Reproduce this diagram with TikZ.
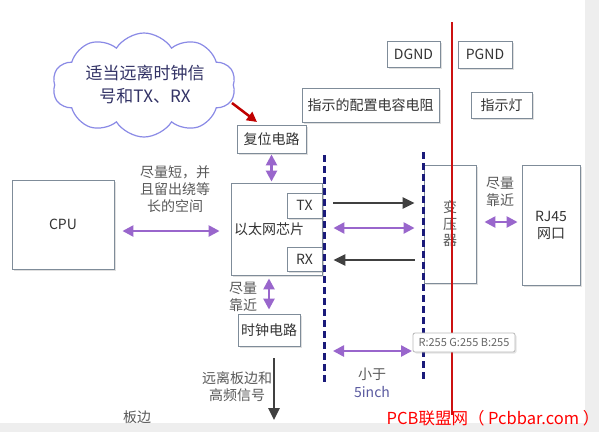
\documentclass[tikz,border=0pt]{standalone}
\usepackage{fontspec}
\setmainfont{Noto Sans CJK SC}
\usetikzlibrary{arrows.meta,shapes.symbols,shadows}
\definecolor{boxline}{HTML}{7F8C99}
\definecolor{pur}{HTML}{9966CC}
\definecolor{navy}{HTML}{1A1A7A}
\definecolor{txt}{HTML}{333333}
\definecolor{gtxt}{HTML}{595959}
\definecolor{cloudline}{HTML}{8A8AE6}
\definecolor{cloudtxt}{HTML}{333366}
\definecolor{darkred}{HTML}{C00000}
\definecolor{redline}{HTML}{CC1111}
\definecolor{arrblack}{HTML}{404040}
\definecolor{inchblue}{HTML}{5A5AA0}
\definecolor{bggray}{HTML}{EEEEEE}
\begin{document}
\begin{tikzpicture}[x=1pt,y=-1pt,
  box/.style={draw=boxline, line width=0.9pt, fill=white, inner sep=0pt, text=txt,
    font=\fontsize{14}{17}\selectfont, align=center,
    drop shadow={shadow xshift=2pt, shadow yshift=-2pt, opacity=0.25}},
  parr/.style={draw=pur, line width=2.5pt,
    {Triangle[length=11pt,width=11pt]}-{Triangle[length=11pt,width=11pt]}},
  barr/.style={draw=arrblack, line width=2.5pt, -{Triangle[length=12pt,width=11pt]}},
  lbl/.style={text=gtxt, font=\fontsize{14}{17}\selectfont, align=center, inner sep=0pt},
  dashln/.style={draw=navy, line width=3pt, dash pattern=on 7pt off 4pt}]
\useasboundingbox (0,0) rectangle (599,432);
\fill[bggray] (0,0) rectangle (599,432);
\fill[white] (0,0) rectangle (585,423);

% cloud
\node[cloud, cloud puffs=10, cloud puff arc=115, aspect=1.76, draw=cloudline, line width=1.2pt,
  fill=white, minimum width=183pt, minimum height=104pt, inner sep=0pt] (cloud) at (144,85) {};
\node[text=cloudtxt, font=\fontsize{17}{23}\selectfont, align=center, inner sep=0pt] (cloudtext) at (145,84)
  {适当远离时钟信\\号和TX、RX};

% boxes
\node[box, minimum width=69pt, minimum height=28pt] (reset) at (271.5,139) {复位电路};
\node[box, minimum width=91pt, minimum height=92pt] (chip) at (276.5,229) {};
\node[lbl, text=txt] (chiptext) at (269,229) {以太网芯片};
\node[box, minimum width=35pt, minimum height=25pt] (tx) at (304.5,205.5) {TX};
\node[box, minimum width=35pt, minimum height=24pt] (rx) at (304.5,259) {RX};
\node[box, minimum width=102pt, minimum height=89pt] (cpu) at (63,224.5) {CPU};
\node[box, minimum width=62pt, minimum height=32pt] (clock) at (269,330) {时钟电路};
\node[box, minimum width=53pt, minimum height=26pt] (dgnd) at (413.5,54) {DGND};
\node[box, minimum width=54pt, minimum height=27pt] (pgnd) at (485,54.5) {PGND};
\node[box, minimum width=137pt, minimum height=34pt] (config) at (370.5,105) {指示的配置电容电阻};
\node[box, minimum width=61pt, minimum height=26pt] (led) at (501.5,105) {指示灯};
\node[box, minimum width=52pt, minimum height=118pt, text=gtxt, font=\fontsize{14}{16.5}\selectfont] (xfmr) at (450,224) {变\\压\\器};
\node[box, minimum width=58pt, minimum height=120pt] (rj45) at (551,225) {RJ45\\网口};

% labels
\node[lbl] (note1) at (175,189) {尽量短，并\\且留出绕等\\长的空间};
\node[lbl] (near1) at (500,192) {尽量\\靠近};
\node[lbl] (near2) at (243,297) {尽量\\靠近};
\node[lbl] (far) at (237,387) {远离板边和\\高频信号};
\node[lbl] (edge) at (137,417) {板边};
\node[lbl] (lt5) at (372,374) {小于};
\node[lbl, text=inchblue] (inch) at (372,392) {5inch};

% coordinates
\coordinate (d1top) at (324,155);
\coordinate (d1bot) at (324,384);
\coordinate (d2top) at (423,152);
\coordinate (d2bot) at (423,382);
\coordinate (redtop) at (452,22);
\coordinate (redbot) at (452,415);
\coordinate (redtail) at (232,103);
\coordinate (redhead) at (257,122);
\coordinate (boardedge) at (274,420);

% connectors
\draw[draw=darkred, line width=2.5pt, -{Triangle[length=10pt,width=10pt]}] (redtail) -- (redhead);
\draw[parr, shorten <=1pt, shorten >=1pt] (reset.south) -- (reset.south |- chip.north);
\draw[parr, shorten <=8pt, shorten >=11pt] (cpu.east |- 0,231) -- (chip.west |- 0,231);
\draw[barr, shorten <=11pt, shorten >=9pt] (chip.east |- 0,203) -- (xfmr.west |- 0,203);
\draw[parr, shorten <=11pt, shorten >=9pt] (chip.east |- 0,228) -- (xfmr.west |- 0,228);
\draw[barr, shorten <=9pt, shorten >=11pt] (xfmr.west |- 0,260) -- (chip.east |- 0,260);
\draw[parr, shorten <=8pt, shorten >=4pt] (xfmr.east |- 0,222) -- (rj45.west |- 0,222);
\draw[parr, shorten <=3pt, shorten >=4pt] (clock.north |- chip.south) -- (clock.north);
\draw[barr, shorten <=12pt] (clock.south -| boardedge) -- (boardedge);
\draw[parr, shorten <=9pt, shorten >=11pt] (d1top |- 0,351) -- (d2top |- 0,351);

% lines
\draw[dashln] (d1top) -- (d1bot);
\draw[dashln] (d2top) -- (d2bot);
\draw[draw=redline, line width=2pt] (redtop) -- (redbot);

% tooltip
\node[draw=gray!55, fill=white, rounded corners=2pt, line width=0.8pt, text=gray!80!black,
  font=\fontsize{11}{13}\selectfont, minimum width=102pt, minimum height=19pt, inner sep=0pt,
  drop shadow={shadow xshift=1.5pt, shadow yshift=-1.5pt, opacity=0.2}] (rgb) at (464,342.5) {R:255 G:255 B:255};

% watermark
\node[text=red, font=\fontsize{16.5}{18}\selectfont, inner sep=0pt] (wm) at (493,418) {PCB联盟网（ Pcbbar.com ）};
\end{tikzpicture}
\end{document}
